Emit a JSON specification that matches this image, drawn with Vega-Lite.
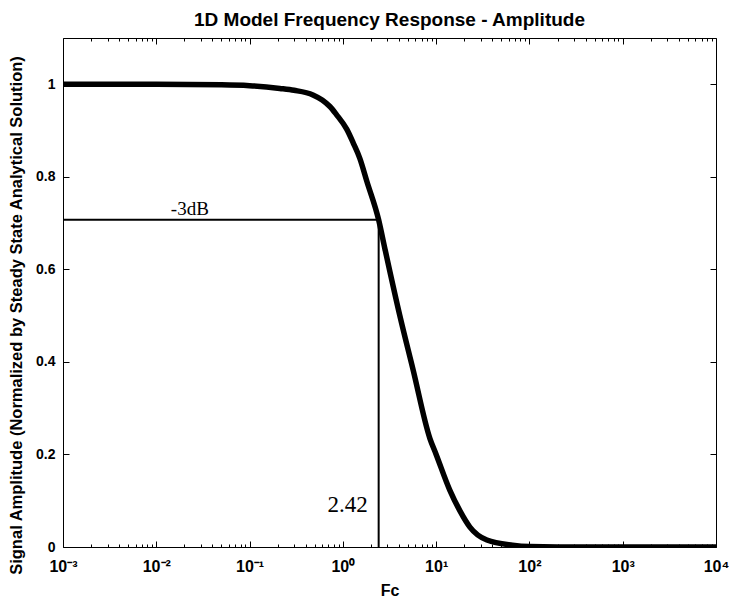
{
  "$schema": "https://vega.github.io/schema/vega-lite/v6.json",
  "width": 653,
  "height": 509,
  "autosize": {"type": "none"},
  "padding": {"left": 63, "top": 38, "right": 14, "bottom": 56},
  "background": "white",
  "title": {"text": "1D Model Frequency Response - Amplitude", "font": "Liberation Sans", "fontSize": 19, "fontWeight": "bold", "color": "black", "offset": 8, "anchor": "middle"},
  "config": {
    "view": {"stroke": "black", "strokeWidth": 1},
    "axis": {"grid": false, "domain": false, "tickColor": "black", "tickWidth": 1, "labelColor": "black", "titleColor": "black", "labelFont": "Liberation Sans", "titleFont": "Liberation Sans", "labelFontWeight": "bold", "titleFontWeight": "bold"}
  },
  "datasets": {
    "curve": [
      {"Fc": 0.001, "amp": 1.0},
      {"Fc": 0.01, "amp": 1.0},
      {"Fc": 0.05, "amp": 0.999},
      {"Fc": 0.1, "amp": 0.997},
      {"Fc": 0.211, "amp": 0.991},
      {"Fc": 0.3, "amp": 0.987},
      {"Fc": 0.478, "amp": 0.977},
      {"Fc": 0.6, "amp": 0.966},
      {"Fc": 0.726, "amp": 0.952},
      {"Fc": 0.85, "amp": 0.935},
      {"Fc": 1.1, "amp": 0.903},
      {"Fc": 1.3, "amp": 0.872},
      {"Fc": 1.52, "amp": 0.84},
      {"Fc": 1.81, "amp": 0.79},
      {"Fc": 2.42, "amp": 0.707},
      {"Fc": 2.82, "amp": 0.645},
      {"Fc": 4.08, "amp": 0.5},
      {"Fc": 5.63, "amp": 0.385},
      {"Fc": 8.56, "amp": 0.235},
      {"Fc": 10, "amp": 0.2},
      {"Fc": 14, "amp": 0.123},
      {"Fc": 18, "amp": 0.078},
      {"Fc": 23, "amp": 0.043},
      {"Fc": 35, "amp": 0.015},
      {"Fc": 66, "amp": 0.004},
      {"Fc": 100, "amp": 0.001},
      {"Fc": 200, "amp": 0},
      {"Fc": 10000, "amp": 0}
    ],
    "hline": [{"x1": 0.001, "x2": 2.42, "y": 0.707}],
    "vline": [{"x": 2.42, "y1": 0, "y2": 0.707}],
    "labels": [
      {"x": 0.0229, "y": 0.718, "text": "-3dB", "kind": "db"},
      {"x": 1.85, "y": 0.075, "text": "2.42", "kind": "fc"}
    ]
  },
  "layer": [
    {
      "data": {"name": "curve"},
      "mark": {"type": "line", "color": "black", "strokeWidth": 5.5, "strokeJoin": "round", "strokeCap": "round", "interpolate": "monotone", "clip": true},
      "encoding": {
        "x": {"field": "Fc", "type": "quantitative", "scale": {"type": "log", "domain": [0.001, 10000], "nice": false},
          "axis": {"orient": "bottom", "offset": -6, "tickSize": 6, "title": "Fc", "titleFontSize": 16, "titlePadding": 8, "values": [0.001, 0.01, 0.1, 1, 10, 100, 1000, 10000], "labelPadding": 11, "labelFontSize": 16,
            "labelExpr": "['10⁻³','10⁻²','10⁻¹','10⁰','10¹','10²','10³','10⁴'][round(log(datum.value)/LN10)+3]", "labelFlush": false}},
        "y": {"field": "amp", "type": "quantitative", "scale": {"domain": [0, 1.1], "nice": false},
          "axis": {"orient": "left", "offset": -6, "tickSize": 6, "title": "Signal Amplitude (Normalized by Steady State Analytical Solution)", "titleFontSize": 16.5, "titleY": 277, "values": [0, 0.2, 0.4, 0.6, 0.8, 1], "format": "~g", "labelPadding": 8, "labelFontSize": 14, "titlePadding": 11}}
      }
    },
    {
      "data": {"name": "hline"},
      "mark": {"type": "rule", "color": "black", "strokeWidth": 2},
      "encoding": {
        "x": {"field": "x1", "type": "quantitative", "scale": {"type": "log", "domain": [0.001, 10000], "nice": false}, "axis": null},
        "x2": {"field": "x2"},
        "y": {"field": "y", "type": "quantitative", "axis": null}
      }
    },
    {
      "data": {"name": "vline"},
      "mark": {"type": "rule", "color": "black", "strokeWidth": 2},
      "encoding": {
        "x": {"field": "x", "type": "quantitative", "scale": {"type": "log", "domain": [0.001, 10000], "nice": false}, "axis": null},
        "y": {"field": "y1", "type": "quantitative", "axis": null},
        "y2": {"field": "y2"}
      }
    },
    {
      "data": {"name": "labels"},
      "transform": [{"filter": "datum.kind == 'db'"}],
      "mark": {"type": "text", "font": "Liberation Serif", "fontSize": 19, "align": "center", "baseline": "alphabetic", "color": "black"},
      "encoding": {
        "x": {"field": "x", "type": "quantitative", "scale": {"type": "log", "domain": [0.001, 10000], "nice": false}, "axis": null},
        "y": {"field": "y", "type": "quantitative", "axis": null},
        "text": {"field": "text"}
      }
    },
    {
      "data": {"name": "labels"},
      "transform": [{"filter": "datum.kind == 'fc'"}],
      "mark": {"type": "text", "font": "Liberation Serif", "fontSize": 23, "align": "right", "baseline": "alphabetic", "color": "black"},
      "encoding": {
        "x": {"field": "x", "type": "quantitative", "scale": {"type": "log", "domain": [0.001, 10000], "nice": false}, "axis": null},
        "y": {"field": "y", "type": "quantitative", "axis": null},
        "text": {"field": "text"}
      }
    },
    {
      "data": {"name": "curve"},
      "mark": {"type": "line", "strokeOpacity": 0},
      "encoding": {
        "x": {"field": "Fc", "type": "quantitative", "scale": {"type": "log", "domain": [0.001, 10000], "nice": false},
          "axis": {"orient": "top", "offset": -6, "tickSize": 6, "title": null, "labels": false, "values": [0.001, 0.01, 0.1, 1, 10, 100, 1000, 10000]}},
        "y": {"field": "amp", "type": "quantitative", "axis": {"orient": "right", "offset": -6, "tickSize": 6, "title": null, "labels": false, "values": [0, 0.2, 0.4, 0.6, 0.8, 1]}}
      }
    },
    {
      "data": {"name": "curve"},
      "mark": {"type": "line", "strokeOpacity": 0},
      "encoding": {
        "x": {"field": "Fc", "type": "quantitative", "scale": {"type": "log", "domain": [0.001, 10000], "nice": false},
          "axis": {"orient": "bottom", "offset": -3, "tickSize": 3, "title": null, "labels": false,
            "values": [0.002, 0.003, 0.004, 0.005, 0.006, 0.007, 0.008, 0.009, 0.02, 0.03, 0.04, 0.05, 0.06, 0.07, 0.08, 0.09, 0.2, 0.3, 0.4, 0.5, 0.6, 0.7, 0.8, 0.9, 2, 3, 4, 5, 6, 7, 8, 9, 20, 30, 40, 50, 60, 70, 80, 90, 200, 300, 400, 500, 600, 700, 800, 900, 2000, 3000, 4000, 5000, 6000, 7000, 8000, 9000]}},
        "y": {"field": "amp", "type": "quantitative", "axis": null}
      }
    },
    {
      "data": {"name": "curve"},
      "mark": {"type": "line", "strokeOpacity": 0},
      "encoding": {
        "x": {"field": "Fc", "type": "quantitative", "scale": {"type": "log", "domain": [0.001, 10000], "nice": false},
          "axis": {"orient": "top", "offset": -3, "tickSize": 3, "title": null, "labels": false,
            "values": [0.002, 0.003, 0.004, 0.005, 0.006, 0.007, 0.008, 0.009, 0.02, 0.03, 0.04, 0.05, 0.06, 0.07, 0.08, 0.09, 0.2, 0.3, 0.4, 0.5, 0.6, 0.7, 0.8, 0.9, 2, 3, 4, 5, 6, 7, 8, 9, 20, 30, 40, 50, 60, 70, 80, 90, 200, 300, 400, 500, 600, 700, 800, 900, 2000, 3000, 4000, 5000, 6000, 7000, 8000, 9000]}},
        "y": {"field": "amp", "type": "quantitative", "axis": null}
      }
    }
  ],
  "resolve": {"scale": {"x": "shared", "y": "shared"}, "axis": {"x": "independent", "y": "independent"}}
}
